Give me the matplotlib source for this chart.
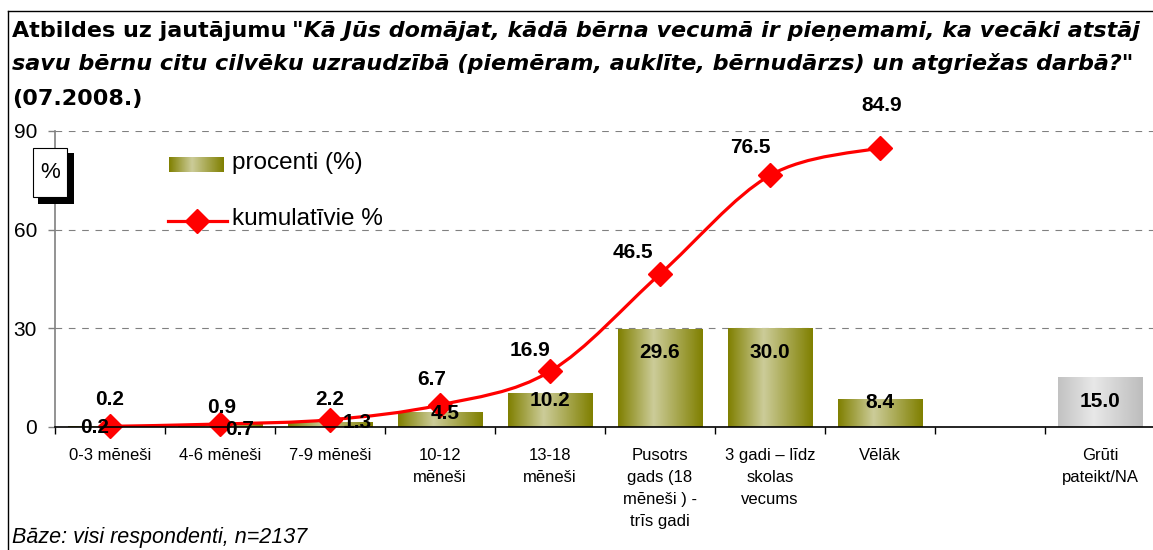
import numpy as np
import matplotlib
matplotlib.use("Agg")
import matplotlib.pyplot as plt
from matplotlib.path import Path
from matplotlib.patches import PathPatch, Rectangle
from matplotlib.lines import Line2D
from matplotlib.colors import LinearSegmentedColormap

plt.rcParams['font.family'] = ['Liberation Sans', 'DejaVu Sans']

# ---------------- data ----------------
categories = ["0-3 mēneši", "4-6 mēneši", "7-9 mēneši", "10-12\nmēneši", "13-18\nmēneši",
              "Pusotrs\ngads (18\nmēneši ) -\ntrīs gadi", "3 gadi – līdz\nskolas\nvecums",
              "Vēlāk", "", "Grūti\npateikt/NA"]
percent = [0.2, 0.7, 1.3, 4.5, 10.2, 29.6, 30.0, 8.4]
hard_to_say = 15.0
cumulative = [0.2, 0.9, 2.2, 6.7, 16.9, 46.5, 76.5, 84.9]
yticks = [0, 30, 60, 90]

legend_labels = ["procenti (%)", "kumulatīvie %"]
footnote = "Bāze: visi respondenti, n=2137"

# ---------------- style ----------------
W, H = 1153, 550
fig = plt.figure(figsize=(W / 100, H / 100), dpi=100)
renderer = fig.canvas.get_renderer()

ax_left, ax_right, ax_y0, ax_y90 = 55, 1155, 427, 131
ax = fig.add_axes([ax_left / W, (H - ax_y0) / H, (ax_right - ax_left) / W, (ax_y0 - ax_y90) / H])

olive = LinearSegmentedColormap.from_list(
    "olive", [(0.0, (0.50, 0.50, 0.0)), (0.42, (0.80, 0.80, 0.60)), (1.0, (0.50, 0.50, 0.0))])
greys = LinearSegmentedColormap.from_list(
    "greys", [(0.0, (0.76, 0.76, 0.76)), (0.42, (0.91, 0.91, 0.91)), (1.0, (0.74, 0.74, 0.74))])
grad = np.linspace(0, 1, 256).reshape(1, -1)

bar_w = 0.77
x = np.arange(len(categories))

# gradient bars
for xi, v in zip(x[:len(percent)], percent):
    ax.imshow(grad, cmap=olive, aspect='auto', extent=[xi - bar_w / 2, xi + bar_w / 2, 0, v],
              zorder=2, interpolation='bicubic')
ax.imshow(grad, cmap=greys, aspect='auto',
          extent=[x[-1] - bar_w / 2, x[-1] + bar_w / 2, 0, hard_to_say], zorder=2,
          interpolation='bicubic')

# smoothed cumulative line (Catmull-Rom style Bezier through data points)
px = x[:len(cumulative)].astype(float)
py = np.array(cumulative, dtype=float)
pts = np.column_stack([px, py])
verts = [pts[0]]
codes = [Path.MOVETO]
n = len(pts)
for i in range(n - 1):
    p0 = pts[i - 1] if i > 0 else pts[i]
    p1 = pts[i]
    p2 = pts[i + 1]
    p3 = pts[i + 2] if i + 2 < n else pts[i + 1]
    c1 = p1 + (p2 - p0) / 6.0
    c2 = p2 - (p3 - p1) / 6.0
    verts += [c1, c2, p2]
    codes += [Path.CURVE4] * 3
ax.add_patch(PathPatch(Path(verts, codes), facecolor='none', edgecolor='#ff0000', lw=2.3,
                       zorder=4, capstyle='round', joinstyle='round'))
ax.plot(px, py, linestyle='none', marker='D', ms=12, color='#ff0000', zorder=5, clip_on=False)

ax.set_xlim(-0.5, len(categories) - 0.5)
ax.set_ylim(0, 90)

# data labels
bar_offsets = [(-15, -1), (20, -5), (27, 0), (5, -1), (0, -7), (0, -23), (0, -24), (0, -3)]
for xi, v, off in zip(x, percent, bar_offsets):
    ax.annotate(f"{v:.1f}", (xi, v), xytext=off, textcoords='offset pixels', ha='center',
                va='center', fontsize=15, fontweight='bold', zorder=6, annotation_clip=False)
ax.annotate(f"{hard_to_say:.1f}", (x[-1], hard_to_say), xytext=(0, -24), textcoords='offset pixels',
            ha='center', va='center', fontsize=15, fontweight='bold', zorder=6)

cum_offsets = [(0, 27), (2, 17), (0, 20), (-8, 25), (-20, 21), (-27, 22), (-20, 28), (2, 42)]
for xi, v, off in zip(px, py, cum_offsets):
    ax.annotate(f"{v:.1f}", (xi, v), xytext=off, textcoords='offset pixels', ha='center',
                va='center', fontsize=15, fontweight='bold', zorder=6, annotation_clip=False)

# axes styling
for s in ['top', 'right']:
    ax.spines[s].set_visible(False)
ax.spines['left'].set_color('#808080')
ax.spines['left'].set_linewidth(1.2)
ax.spines['bottom'].set_color('black')
ax.spines['bottom'].set_linewidth(1.2)
ax.spines['bottom'].set_zorder(7)

ax.set_yticks(yticks)
ax.set_yticklabels([str(t) for t in yticks], fontsize=15)
ax.tick_params(axis='y', length=5, color='#808080', width=1, pad=8)
ax.yaxis.grid(True, linestyle=(0, (6, 6)), color='#808080', linewidth=0.8)
ax.set_axisbelow(True)

ax.set_xticks(x)
ax.set_xticklabels(categories, fontsize=12, linespacing=1.6)
ax.tick_params(axis='x', which='major', length=0, pad=15)
ax.set_xticks(np.arange(-0.5, len(categories) - 1, 1.0), minor=True)
ax.tick_params(axis='x', which='minor', length=5, color='black', width=1)

# legend (manual)
sw = fig.add_axes([169 / W, (H - 172) / H, 55 / W, 15 / H])
sw.imshow(grad, cmap=olive, aspect='auto', interpolation='bicubic')
sw.axis('off')
fig.text(232 / W, 1 - 163 / H, legend_labels[0], fontsize=17.5, va='center', ha='left')
fig.add_artist(Line2D([168 / W, 227 / W], [1 - 221 / H] * 2, transform=fig.transFigure,
                      color='#ff0000', lw=2.3))
fig.add_artist(Line2D([197 / W], [1 - 221 / H], transform=fig.transFigure, marker='D', ms=12,
                      color='#ff0000', linestyle='none'))
fig.text(232 / W, 1 - 219 / H, legend_labels[1], fontsize=17.5, va='center', ha='left')

# % box with shadow
fig.add_artist(Rectangle((38 / W, 1 - 204 / H), 36 / W, 51 / H, transform=fig.transFigure,
                         facecolor='black', edgecolor='none', zorder=8))
fig.add_artist(Rectangle((33 / W, 1 - 197 / H), 34 / W, 49 / H, transform=fig.transFigure,
                         facecolor='white', edgecolor='black', lw=0.8, zorder=9))
fig.text(50 / W, 1 - 172 / H, "%", fontsize=16, ha='center', va='center', zorder=10)

# figure frame (left and top edges visible)
fig.add_artist(Line2D([8 / W, 8 / W], [0, 1 - 11 / H], transform=fig.transFigure, color='black', lw=1))
fig.add_artist(Line2D([8 / W, 1], [1 - 11 / H, 1 - 11 / H], transform=fig.transFigure, color='black', lw=1))

# title with mixed styles (font size fitted so the first line spans the reference width)
title_lines = [
    [("Atbildes uz jautājumu", 'normal'), ("\"Kā Jūs domājat, kādā bērna vecumā ir pieņemami, ka vecāki atstāj", 'italic')],
    [("savu bērnu citu cilvēku uzraudzībā (piemēram, auklīte, bērnudārzs) un atgriežas darbā?\"", 'italic')],
    [("(07.2008.)", 'normal')],
]
title_y = [31, 63, 99]
title_family = ['DejaVu Sans']


def draw_title(size):
    objs = []
    widths = []
    for parts, yc in zip(title_lines, title_y):
        xp = 12
        for txt, style in parts:
            t = fig.text(xp / W, 1 - yc / H, txt, fontsize=size, fontweight='bold', fontstyle=style,
                         va='center', ha='left', family=title_family)
            bb = t.get_window_extent(renderer)
            objs.append(t)
            xp = bb.x1 + 0.33 * size
        widths.append(xp - 0.33 * size - 12)
    return objs, widths


size0 = 15.0
objs, widths = draw_title(size0)
for o in objs:
    o.remove()
size1 = size0 * 1128.0 / widths[0]
draw_title(size1)

fig.text(12 / W, 1 - 537 / H, footnote, fontsize=15.5, fontstyle='italic', va='center', ha='left')

fig.savefig("out.png", dpi=100)
